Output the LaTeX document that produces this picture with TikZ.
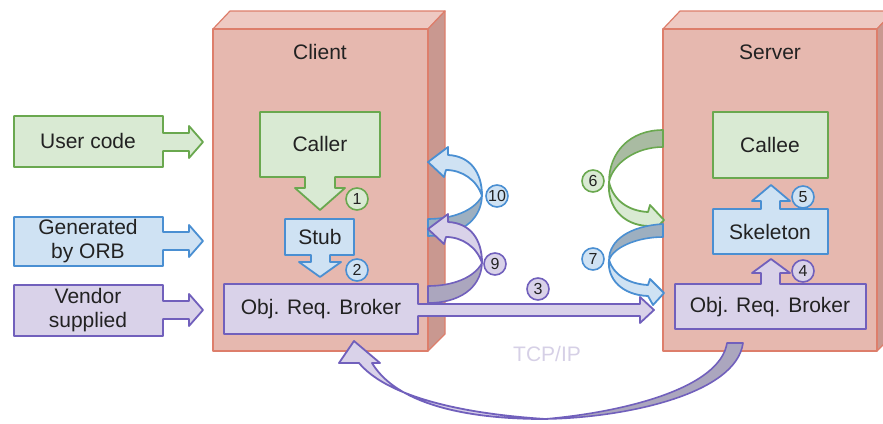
\documentclass[tikz,border=0pt]{standalone}
\usepackage{fontspec}
\setmainfont{Liberation Sans}
\definecolor{ink}{HTML}{222222}
\definecolor{redfront}{HTML}{E6B8AF}
\definecolor{redtop}{HTML}{EEC9C2}
\definecolor{redside}{HTML}{C99890}
\definecolor{redline}{HTML}{DD7E6B}
\definecolor{gfill}{HTML}{D9EAD3}
\definecolor{gline}{HTML}{6AA84F}
\definecolor{gdark}{HTML}{A9BBA2}
\definecolor{bfill}{HTML}{CFE2F3}
\definecolor{bline}{HTML}{4A8FD2}
\definecolor{bdark}{HTML}{9DAFC0}
\definecolor{pfill}{HTML}{D9D2E9}
\definecolor{pline}{HTML}{7160BC}
\definecolor{pdark}{HTML}{ABA6BE}
\definecolor{tcpcol}{HTML}{D6D0E6}
\begin{document}
\begin{tikzpicture}[x=1pt,y=-1pt,
  line join=round,
  cube/.style={fill=redfront,draw=redline,line width=1.2pt},
  cubetop/.style={fill=redtop,draw=redline,line width=1.2pt},
  cubeside/.style={fill=redside,draw=redline,line width=1.2pt},
  gshape/.style={fill=gfill,draw=gline,line width=1.8pt},
  bshape/.style={fill=bfill,draw=bline,line width=1.8pt},
  pshape/.style={fill=pfill,draw=pline,line width=1.8pt},
  gback/.style={fill=gdark,draw=gline,line width=1.6pt},
  bback/.style={fill=bdark,draw=bline,line width=1.6pt},
  pback/.style={fill=pdark,draw=pline,line width=1.6pt},
  lbl/.style={font=\fontsize{21}{24}\selectfont,text=ink,align=center,inner sep=0pt},
  num/.style={circle,minimum size=22pt,inner sep=0pt,line width=1.6pt,
    font=\fontsize{16}{16}\selectfont,text=ink},
  gnum/.style={num,fill=gfill,draw=gline},
  bnum/.style={num,fill=bfill,draw=bline},
  pnum/.style={num,fill=pfill,draw=pline}]
\useasboundingbox (0,0) rectangle (883,423);
\clip (0,0) rectangle (883,423);

% ---- client and server machines (3D blocks)
\draw[cubetop]  (213,29) -- (230,11) -- (445,11) -- (428,29) -- cycle;
\draw[cubeside] (428,29) -- (445,11) -- (445,334) -- (428,351) -- cycle;
\draw[cube] (213,29) rectangle (428,351);
\draw[cubetop]  (663,29) -- (680,11) -- (894,11) -- (877,29) -- cycle;
\draw[cubeside] (877,29) -- (894,11) -- (894,334) -- (877,351) -- cycle;
\draw[cube] (663,29) rectangle (877,351);
\node[lbl] (client) at (320,52) {Client};
\node[lbl] (server) at (770,52) {Server};

% ---- legend
\draw[gshape] (14,116) -- (163,116) -- (163,133) -- (189,133) -- (189,126) -- (203,142)
  -- (189,158) -- (189,151) -- (163,151) -- (163,167) -- (14,167) -- cycle;
\node[lbl] (usercode) at (88,141) {User code};
\draw[bshape] (14,217) -- (163,217) -- (163,232) -- (189,232) -- (189,225) -- (203,241)
  -- (189,257) -- (189,250) -- (163,250) -- (163,266) -- (14,266) -- cycle;
\node[lbl] (generated) at (88,241) {Generated\\by ORB};
\draw[pshape] (14,285) -- (163,285) -- (163,301) -- (189,301) -- (189,294) -- (203,310)
  -- (189,326) -- (189,319) -- (163,319) -- (163,336) -- (14,336) -- cycle;
\node[lbl] (vendor) at (88,310) {Vendor\\supplied};

% ---- client side stack
\draw[gshape] (260,112) -- (380,112) -- (380,177) -- (335,177) -- (335,188) -- (345,188)
  -- (320,210) -- (295,188) -- (305,188) -- (305,177) -- (260,177) -- cycle;
\node[lbl] (caller) at (320,144) {Caller};
\draw[bshape] (285,219) -- (354,219) -- (354,255) -- (330,255) -- (330,262) -- (341,262)
  -- (320,277) -- (299,262) -- (311,262) -- (311,255) -- (285,255) -- cycle;
\node[lbl] (stub) at (320,237) {Stub};

% ---- server side stack
\draw[gshape] (713,112) rectangle (828,178);
\node[lbl] (callee) at (770,145) {Callee};
\draw[bshape] (713,209) -- (761,209) -- (761,201) -- (752,201) -- (771,185) -- (790,201)
  -- (780,201) -- (780,209) -- (828,209) -- (828,254) -- (713,254) -- cycle;
\node[lbl] (skeleton) at (770,232) {Skeleton};
\draw[pshape] (675,284) -- (761,284) -- (761,273) -- (752,273) -- (771,259) -- (790,273)
  -- (780,273) -- (780,284) -- (866,284) -- (866,329) -- (675,329) -- cycle;
\node[lbl] (sorb) at (770,307) {Obj. Req. Broker};

% ---- return ribbons on the client side (10 above 9)
\draw[bback] (482,196) .. controls (481,222) and (458,236) .. (428,236) -- (428,219)
  .. controls (452,219) and (474,211) .. (482,196) -- cycle;
\draw[bshape] (482,196) .. controls (482,172) and (470,156) .. (448,155) -- (448,147)
  -- (428,162) -- (444,177) -- (446,170) .. controls (462,170) and (477,180) .. (482,196) -- cycle;
\begin{scope}[yshift=-67pt]
\draw[pback] (482,196) .. controls (481,222) and (458,236) .. (428,236) -- (428,219)
  .. controls (452,219) and (474,211) .. (482,196) -- cycle;
\draw[pshape] (482,196) .. controls (482,172) and (470,156) .. (448,155) -- (448,147)
  -- (428,162) -- (444,177) -- (446,170) .. controls (462,170) and (477,180) .. (482,196) -- cycle;
\end{scope}

% ---- dispatch ribbons on the server side (6 above 7)
\draw[gback] (663,130) .. controls (630,130) and (609,152) .. (609,182)
  .. controls (613,163) and (636,147) .. (663,147) -- cycle;
\draw[gshape] (609,182) .. controls (613,200) and (628,211) .. (648,212) -- (650,205)
  -- (664,220) -- (652,233) -- (648,226) .. controls (622,225) and (607,206) .. (609,182) -- cycle;
\draw[bback] (663,224) .. controls (630,226) and (609,240) .. (609,260)
  .. controls (613,248) and (636,237) .. (663,237) -- cycle;
\draw[bshape] (609,260) .. controls (613,274) and (628,284) .. (648,285) -- (650,279)
  -- (664,293) -- (653,305) -- (648,296) .. controls (622,295) and (607,279) .. (609,260) -- cycle;

% ---- client ORB with the request going over the network
\draw[pshape] (224,284) -- (418,284) -- (418,304) -- (640,304) -- (640,297) -- (654,310)
  -- (640,323) -- (640,316) -- (418,316) -- (418,334) -- (224,334) -- cycle;
\node[lbl] (corb) at (321,309) {Obj. Req. Broker};

% ---- reply path underneath (TCP/IP)
\draw[pback] (727,343) -- (743,343) .. controls (736,395) and (622,418) .. (545,419)
  .. controls (625,412) and (720,388) .. (727,343) -- cycle;
\draw[pshape] (545,419) .. controls (450,419) and (393,398) .. (372,363) -- (380,363)
  -- (354,341) -- (339,363) -- (359,363) .. controls (385,394) and (452,413) .. (545,419) -- cycle;
\node[font=\fontsize{21}{24}\selectfont,text=tcpcol] (tcp) at (547,354) {TCP/IP};

% ---- step numbers
\node[gnum] (n1) at (357,199) {1};
\node[bnum] (n2) at (357,270) {2};
\node[pnum] (n3) at (538,289) {3};
\node[pnum] (n4) at (803,271) {4};
\node[bnum] (n5) at (803,197) {5};
\node[gnum] (n6) at (593,181) {6};
\node[bnum] (n7) at (593,259) {7};
\node[pnum] (n9) at (495,264) {9};
\node[bnum] (n10) at (497,196) {10};
\end{tikzpicture}
\end{document}
